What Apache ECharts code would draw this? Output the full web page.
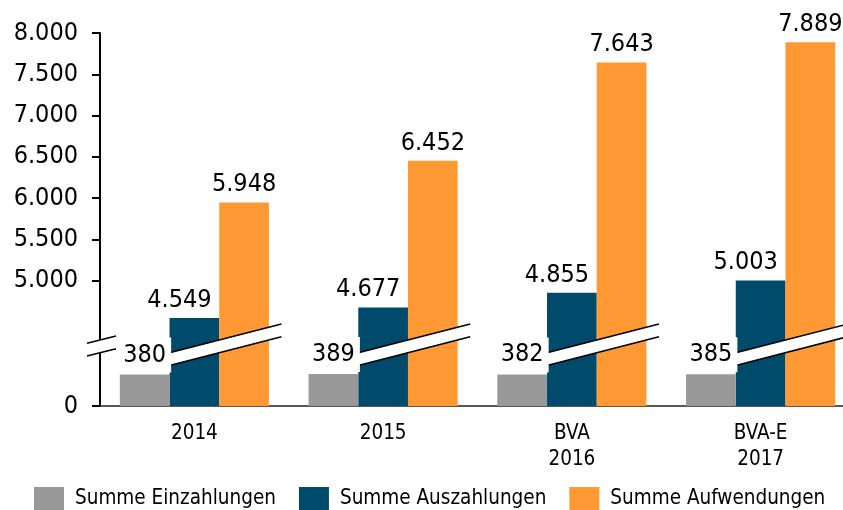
<!DOCTYPE html>
<html>
<head>
<meta charset="utf-8">
<script src="https://cdn.jsdelivr.net/npm/echarts@6.0.0/dist/echarts.min.js"></script>
<style>
  html, body { margin: 0; padding: 0; background: #fff; }
  #chart { width: 843px; height: 510px; }
</style>
</head>
<body>
<div id="chart"></div>
<script>
// Daten
const categories = ['2014', '2015', 'BVA\n2016', 'BVA-E\n2017'];
const einzahlungen = [380, 389, 382, 385];
const auszahlungen = [4549, 4677, 4855, 5003];
const aufwendungen = [5948, 6452, 7643, 7889];
const yTickValues = [0, 5000, 5500, 6000, 6500, 7000, 7500, 8000];
const seriesNames = ['Summe Einzahlungen', 'Summe Auszahlungen', 'Summe Aufwendungen'];
const colors = ['#999999', '#004B6B', '#FF9933'];

// Achsenbruch zwischen den kleinen und grossen Werten
const breakStart = 450;
const breakEnd = 3933;

const numFont = '"DejaVu Sans Condensed", "DejaVu Sans", sans-serif';
const txtFont = '"DejaVu Sans Condensed", "DejaVu Sans", sans-serif';
const barW = 49.7;

// 8000 -> 8.000
const fmt = v => String(v).replace(/\B(?=(\d{3})+(?!\d))/g, '.');

const chart = echarts.init(document.getElementById('chart'));

const option = {
  animation: false,
  backgroundColor: '#fff',
  color: colors,
  grid: { left: 100, right: -12, top: 33, bottom: 104, outerBoundsMode: 'none' },
  legend: {
    left: 29,
    top: 482,
    icon: 'rect',
    itemWidth: 30,
    itemHeight: 23,
    itemGap: 23,
    data: seriesNames,
    textStyle: { fontSize: 20.5, fontFamily: txtFont, color: '#000', padding: [0, 0, 0, 6] }
  },
  xAxis: {
    type: 'category',
    data: categories,
    axisLine: { lineStyle: { color: '#222', width: 1.5 } },
    axisTick: { show: false },
    axisLabel: { color: '#000', fontSize: 20.5, lineHeight: 25.5, fontFamily: txtFont, margin: 15 }
  },
  yAxis: {
    type: 'value',
    min: 0,
    max: 8000,
    breaks: [{ start: breakStart, end: breakEnd, gap: '0%' }],
    breakArea: { show: false },
    splitLine: { show: false },
    axisLine: { show: true, lineStyle: { color: '#000', width: 2 } },
    axisTick: { show: true, length: 8, customValues: yTickValues, lineStyle: { color: '#000', width: 2 } },
    axisLabel: {
      customValues: yTickValues,
      formatter: fmt,
      margin: 22,
      fontSize: 25,
      fontFamily: numFont,
      color: '#000'
    }
  },
  series: [
    {
      name: seriesNames[0],
      type: 'bar',
      z: 4,
      barWidth: barW,
      barGap: '0%',
      data: einzahlungen,
      label: {
        show: true,
        position: 'top',
        distance: 2,
        formatter: p => fmt(p.value),
        backgroundColor: '#fff',
        padding: [5, 5, 5, 5],
        fontSize: 25,
        lineHeight: 25,
        fontFamily: numFont,
        color: '#000'
      }
    },
    {
      name: seriesNames[1],
      type: 'bar',
      barWidth: barW,
      barGap: '0%',
      data: auszahlungen,
      label: {
        show: true,
        position: 'top',
        distance: 5,
        offset: [-15, 0],
        formatter: p => fmt(p.value),
        fontSize: 25,
        fontFamily: numFont,
        color: '#000'
      }
    },
    {
      name: seriesNames[2],
      type: 'bar',
      barWidth: barW,
      barGap: '0%',
      data: aufwendungen,
      label: {
        show: true,
        position: 'top',
        distance: 5,
        formatter: p => fmt(p.value),
        fontSize: 25,
        fontFamily: numFont,
        color: '#000'
      }
    }
  ]
};

chart.setOption(option);

// schraege Bruchlinien wie im Original
function band(xa, xb, ya, yb, t) {
  return [
    { type: 'polygon', z: 3, shape: { points: [[xa, ya], [xb, yb], [xb, yb + t], [xa, ya + t]] }, style: { fill: '#fff' } },
    { type: 'line', z: 3, shape: { x1: xa, y1: ya, x2: xb, y2: yb }, style: { stroke: '#000', lineWidth: 1.5 } },
    { type: 'line', z: 3, shape: { x1: xa, y1: ya + t, x2: xb, y2: yb + t }, style: { stroke: '#000', lineWidth: 1.5 } }
  ];
}

function drawBreaks() {
  const zeroY = chart.convertToPixel({ yAxisIndex: 0 }, 0);
  const c0 = chart.convertToPixel({ xAxisIndex: 0 }, 0);
  const c1 = chart.convertToPixel({ xAxisIndex: 0 }, 1);
  const left = c0 - (c1 - c0) / 2;
  let els = band(left - 13, left + 16, zeroY - 62.7, zeroY - 70, 12.7);
  categories.forEach((c, i) => {
    const cx = chart.convertToPixel({ xAxisIndex: 0 }, i);
    els = els.concat(band(cx - 0.5 * barW, cx + 1.5 * barW + 12.5, zeroY - 53.3, zeroY - 82, 12.7));
  });
  chart.setOption({ graphic: els });
}

drawBreaks();
</script>
</body>
</html>
